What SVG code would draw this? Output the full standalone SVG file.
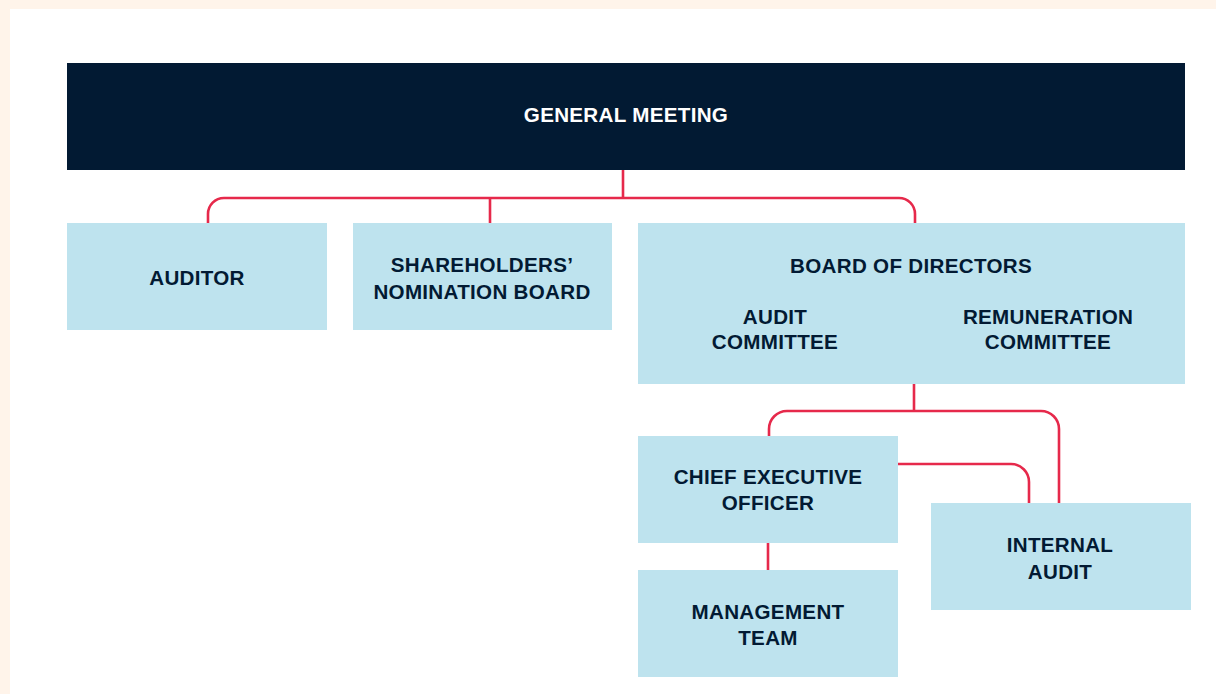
<svg xmlns="http://www.w3.org/2000/svg" width="1216" height="694" viewBox="0 0 1216 694">
<style>
.box{fill:#bee3ee}
.lbl{font-family:"Liberation Sans",Arial,sans-serif;font-weight:bold;font-size:20.6px;letter-spacing:0.3px;fill:#021a33;text-anchor:middle}
.wh{fill:#ffffff}
.con{fill:none;stroke:#e6294b;stroke-width:2.6}
</style>
<rect x="0" y="0" width="1216" height="694" fill="#fff4ea"/>
<rect x="10" y="9" width="1206" height="685" fill="#ffffff"/>
<g id="connectors">
<path class="con" d="M623 170 V198"/>
<path class="con" d="M208 223 V214 A16 16 0 0 1 224 198 H899 A16 16 0 0 1 915 214 V223"/>
<path class="con" d="M490 198 V223"/>
<path class="con" d="M914 384 V411"/>
<path class="con" d="M769 436 V429 A18 18 0 0 1 787 411 H1041 A18 18 0 0 1 1059 429 V503"/>
<path class="con" d="M898 464 H1011 A18 18 0 0 1 1029 482 V503"/>
<path class="con" d="M768 543 V570"/>
</g>
<g id="general-meeting">
<rect x="67" y="63" width="1118" height="107" fill="#021a33"/>
<text class="lbl wh" x="626" y="122">GENERAL MEETING</text>
</g>
<g id="auditor">
<rect class="box" x="67" y="223" width="260" height="107"/>
<text class="lbl" x="197" y="285">AUDITOR</text>
</g>
<g id="nomination-board">
<rect class="box" x="353" y="223" width="259" height="107"/>
<text class="lbl" x="482" y="272">SHAREHOLDERS’</text>
<text class="lbl" x="482" y="299">NOMINATION BOARD</text>
</g>
<g id="board">
<rect class="box" x="638" y="223" width="547" height="161"/>
<text class="lbl" x="911" y="273">BOARD OF DIRECTORS</text>
<text class="lbl" x="775" y="324">AUDIT</text>
<text class="lbl" x="775" y="349">COMMITTEE</text>
<text class="lbl" x="1048" y="324">REMUNERATION</text>
<text class="lbl" x="1048" y="349">COMMITTEE</text>
</g>
<g id="ceo">
<rect class="box" x="638" y="436" width="260" height="107"/>
<text class="lbl" x="768" y="484">CHIEF EXECUTIVE</text>
<text class="lbl" x="768" y="510">OFFICER</text>
</g>
<g id="management">
<rect class="box" x="638" y="570" width="260" height="107"/>
<text class="lbl" x="768" y="619">MANAGEMENT</text>
<text class="lbl" x="768" y="645">TEAM</text>
</g>
<g id="internal-audit">
<rect class="box" x="931" y="503" width="260" height="107"/>
<text class="lbl" x="1060" y="552">INTERNAL</text>
<text class="lbl" x="1060" y="579">AUDIT</text>
</g>
</svg>
